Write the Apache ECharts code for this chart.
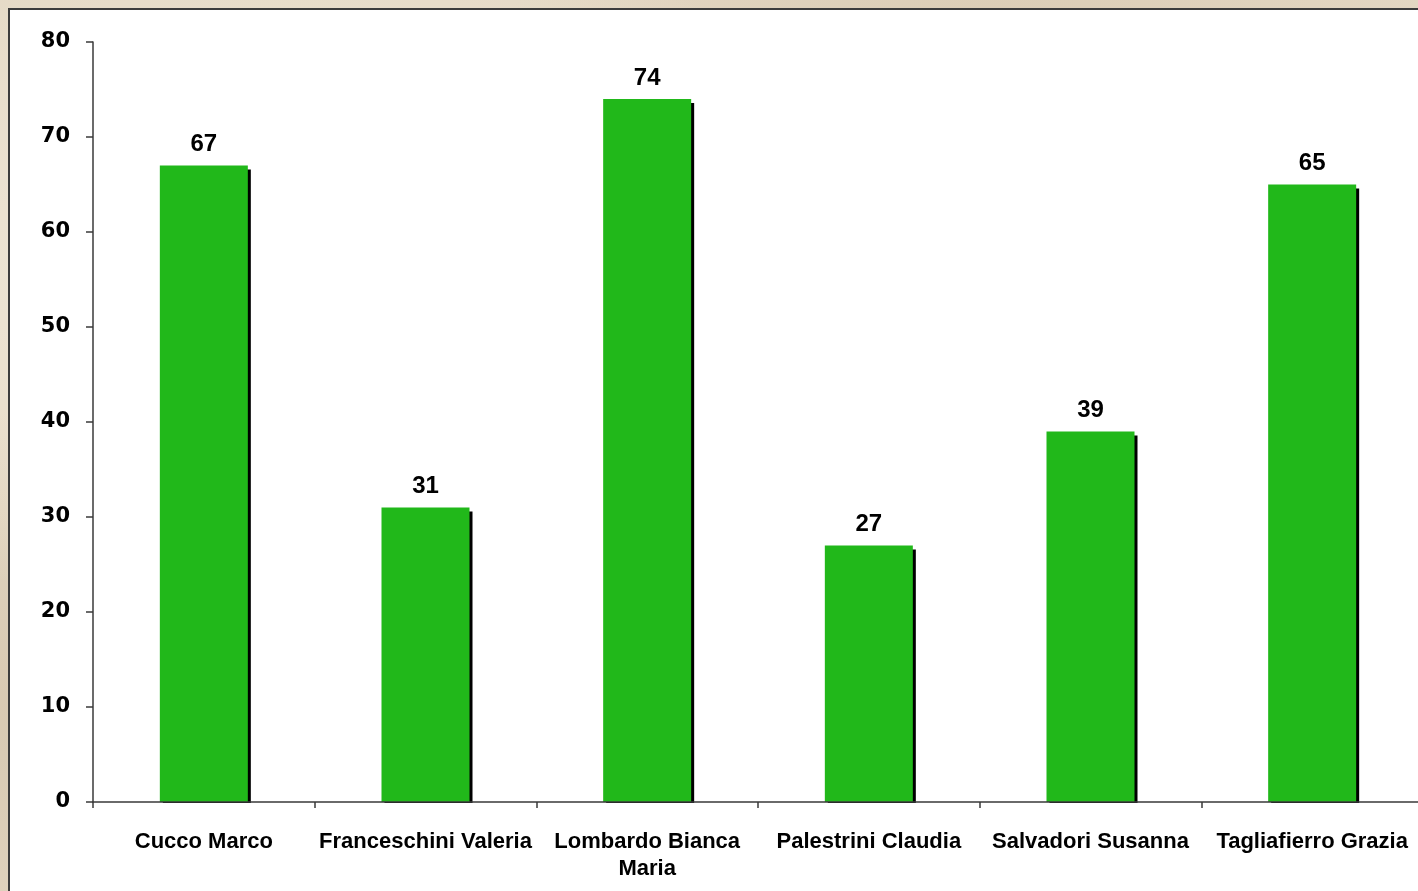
<!DOCTYPE html>
<html>
<head>
<meta charset="utf-8">
<script src="https://cdn.jsdelivr.net/npm/echarts@6/dist/echarts.min.js"></script>
<style>
html, body { margin: 0; padding: 0; width: 1418px; height: 891px; overflow: hidden; }
body {
  background-color: #e4d8c4;
  background-image:
    radial-gradient(ellipse at 20% 30%, rgba(255,250,240,0.55) 0%, rgba(255,250,240,0) 40%),
    radial-gradient(ellipse at 70% 10%, rgba(200,180,150,0.35) 0%, rgba(200,180,150,0) 35%),
    radial-gradient(ellipse at 5% 80%, rgba(190,170,140,0.35) 0%, rgba(190,170,140,0) 30%),
    radial-gradient(ellipse at 90% 60%, rgba(255,250,240,0.45) 0%, rgba(255,250,240,0) 40%);
  position: relative;
}
#panel {
  position: absolute; left: 8px; top: 8px; width: 1430px; height: 900px;
  background: #ffffff; border-top: 2px solid #3c3c3c; border-left: 2px solid #3c3c3c;
}
#chart { position: absolute; left: 0; top: 0; width: 1450px; height: 891px; }
</style>
</head>
<body>
<div id="panel"></div>
<div id="chart"></div>
<script>
const categories = ['Cucco Marco', 'Franceschini Valeria', 'Lombardo Bianca\nMaria', 'Palestrini Claudia', 'Salvadori Susanna', 'Tagliafierro Grazia'];
const values = [67, 31, 74, 27, 39, 65];
const yMin = 0, yMax = 80, yStep = 10;

const chart = echarts.init(document.getElementById('chart'), null, { renderer: 'canvas' });
chart.setOption({
  backgroundColor: 'transparent',
  animation: false,
  grid: { left: 93, top: 42, width: 1330, height: 760, containLabel: false },
  xAxis: {
    type: 'category',
    data: categories,
    z: 10,
    axisLine: { lineStyle: { color: '#3a3a3a', width: 1.5 } },
    axisTick: { show: true, length: 6, inside: false, lineStyle: { color: '#3a3a3a', width: 1.5 } },
    axisLabel: {
      interval: 0, margin: 26, color: '#000',
      fontFamily: '"Liberation Sans", Arial, sans-serif', fontWeight: 'bold', fontSize: 22, lineHeight: 27
    }
  },
  yAxis: {
    type: 'value', min: yMin, max: yMax, interval: yStep,
    z: 10,
    axisLine: { show: true, lineStyle: { color: '#3a3a3a', width: 1.5 } },
    axisTick: { show: true, length: 7, lineStyle: { color: '#3a3a3a', width: 1.5 } },
    splitLine: { show: false },
    axisLabel: {
      margin: 23, color: '#000',
      fontFamily: '"DejaVu Sans", Verdana, sans-serif', fontWeight: 'bold', fontSize: 21
    }
  },
  series: [{
    type: 'bar',
    data: values,
    barWidth: 88,
    z: 2,
    itemStyle: {
      color: '#21b81a',
      shadowColor: '#000', shadowBlur: 0, shadowOffsetX: 3, shadowOffsetY: 4
    },
    label: {
      show: true, position: 'top', distance: 9, color: '#000',
      fontFamily: '"Liberation Sans", Arial, sans-serif', fontWeight: 'bold', fontSize: 24
    }
  }]
});
// white band hiding the bar shadows below the x axis line
const y0 = chart.convertToPixel({ yAxisIndex: 0 }, yMin);
chart.setOption({
  graphic: [{
    type: 'rect', z: 5,
    shape: { x: 94, y: y0 + 1, width: 1340, height: 8 },
    style: { fill: '#ffffff' }
  }]
});
</script>
</body>
</html>
